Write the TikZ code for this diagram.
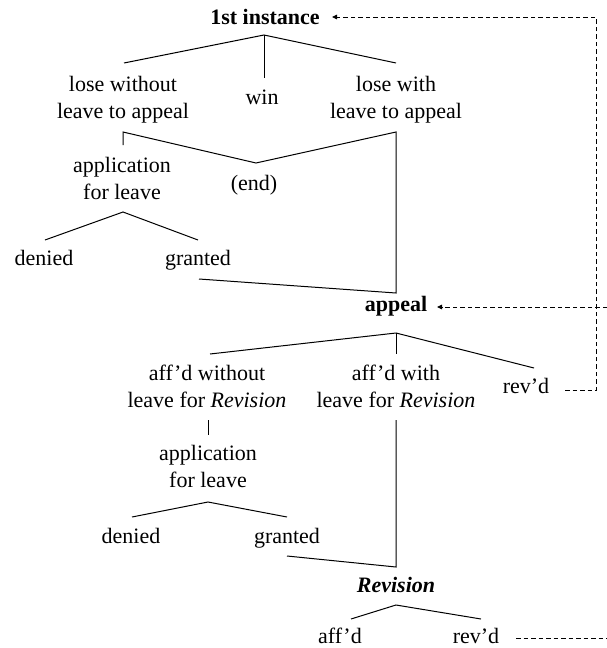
\documentclass[tikz,border=0pt]{standalone}
\usepackage{fontspec}
\setmainfont{Liberation Serif}
\usetikzlibrary{arrows.meta}
\begin{document}
\begin{tikzpicture}[x=1pt,y=-1pt,
  lbl/.style={anchor=base,align=center,inner sep=0pt,font=\fontsize{22}{27}\selectfont},
  edge/.style={line width=1pt},
  back/.style={line width=0.9pt,dash pattern=on 4.5pt off 3pt},
  backarrow/.style={back,-{Triangle[length=5pt,width=4.5pt]}}]
\useasboundingbox (0,0) rectangle (607,648);
% ---------- text nodes (base = baseline of last line) ----------
\node[lbl] (inst) at (265,24) {\textbf{1st instance}};
\node[lbl] (lwo) at (123,118) {lose without\\leave to appeal};
\node[lbl] (win) at (262,104) {win};
\node[lbl] (lw) at (396,118) {lose with\\leave to appeal};
\node[lbl] (appA) at (122,199) {application\\for leave};
\node[lbl] (endn) at (254,190) {(end)};
\node[lbl] (denA) at (44,265) {denied};
\node[lbl] (grA) at (198,265) {granted};
\node[lbl] (appeal) at (396,311) {\textbf{appeal}};
\node[lbl] (awo) at (207,407) {aff’d without\\leave for \textit{Revision}};
\node[lbl] (aw) at (396,407) {aff’d with\\leave for \textit{Revision}};
\node[lbl] (revA) at (526,393) {rev’d};
\node[lbl] (appB) at (208,487) {application\\for leave};
\node[lbl] (denB) at (131,543) {denied};
\node[lbl] (grB) at (287,543) {granted};
\node[lbl] (revision) at (396,592) {\textbf{\textit{Revision}}};
\node[lbl] (affd) at (340,643) {aff’d};
\node[lbl] (revB) at (476,643) {rev’d};
% ---------- connector end points ----------
\coordinate (instS) at (264,35);
\coordinate (lwoN) at (124,63);
\coordinate (winN) at (264,78);
\coordinate (lwN) at (396,63);
\coordinate (lwoS) at (123,132);
\coordinate (appAN) at (123,145);
\coordinate (endN) at (256,163);
\coordinate (lwS) at (396,132);
\coordinate (lwJ) at (396,293);
\coordinate (grAE) at (199,279);
\coordinate (appAS) at (123,212);
\coordinate (denAN) at (45,240);
\coordinate (grAN) at (198,240);
\coordinate (appealS) at (396,333);
\coordinate (awoN) at (210,354);
\coordinate (awN) at (396,354);
\coordinate (revAN) at (534,368);
\coordinate (awoS) at (208,420);
\coordinate (appBN) at (208,435);
\coordinate (awS) at (396,420);
\coordinate (awJ) at (396,567);
\coordinate (grBE) at (287,556);
\coordinate (appBS) at (208,502);
\coordinate (denBN) at (132,517);
\coordinate (grBN) at (287,517);
\coordinate (revisionS) at (396,605);
\coordinate (affdN) at (351,619);
\coordinate (revBN) at (481,619);
\coordinate (revAE) at (565,390);
\coordinate (cornerB) at (596,390);
\coordinate (cornerT) at (596,17);
\coordinate (instE) at (332,17);
\coordinate (offR) at (607,307);
\coordinate (appealE) at (437,307);
\coordinate (revBE) at (516,638);
\coordinate (offB) at (607,638);
% ---------- tree edges ----------
\draw[edge] (lwoN) -- (instS) -- (lwN);
\draw[edge] (instS) -- (winN);
\draw[edge] (appAN) -- (lwoS) -- (endN) -- (lwS) -- (lwJ) -- (grAE);
\draw[edge] (denAN) -- (appAS) -- (grAN);
\draw[edge] (awoN) -- (appealS) -- (revAN);
\draw[edge] (appealS) -- (awN);
\draw[edge] (awoS) -- (appBN);
\draw[edge] (awS) -- (awJ) -- (grBE);
\draw[edge] (denBN) -- (appBS) -- (grBN);
\draw[edge] (affdN) -- (revisionS) -- (revBN);
% ---------- dashed returns ----------
\draw[backarrow] (revAE) -- (cornerB) -- (cornerT) -- (instE);
\draw[backarrow] (offR) -- (appealE);
\draw[back] (revBE) -- (offB);
\end{tikzpicture}
\end{document}
